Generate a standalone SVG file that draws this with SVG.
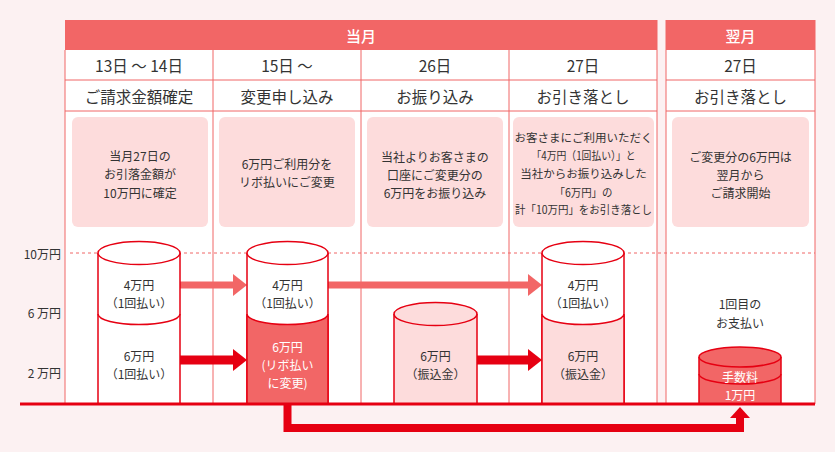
<svg xmlns="http://www.w3.org/2000/svg" width="835" height="452" viewBox="0 0 835 452">
<defs>
<style>
text{font-family:"Noto Sans CJK JP","Noto Sans",sans-serif;fill:#333;text-anchor:middle;dominant-baseline:central}
.hd{fill:#fff;font-size:15px;font-weight:500}
.row{font-size:15.5px}
.box{fill:#fddcdc}
.bt{font-size:12px}
.cy{font-size:12px}
.wt{fill:#fff}
.ax{font-size:12px;text-anchor:end}
.grid{stroke:#f06666;stroke-width:1;fill:none}
.cyl{stroke:#e60012;stroke-width:1.5}
</style>
</defs>
<rect width="835" height="452" fill="#fcf1f2"/>
<g id="table-current">
<rect x="65" y="50" width="592" height="354" fill="#fff"/>
<rect x="65" y="20" width="592" height="30" fill="#f26666"/>
<text class="hd" x="361" y="35">当月</text>
<path class="grid" d="M65,50V404M213,50V404M361,50V404M509,50V404M657,20V404M65,80H657M65,111H657"/>
</g>
<g id="table-next">
<rect x="666" y="50" width="149" height="354" fill="#fff"/>
<rect x="666" y="20" width="149" height="30" fill="#f26666"/>
<text class="hd" x="740.5" y="35">翌月</text>
<path class="grid" d="M666,20V404M815,20V404M666,80H815M666,111H815"/>
</g>
<g id="row-labels">
<text class="row" x="139" y="65">13日 ～ 14日</text>
<text class="row" x="287" y="65">15日 ～</text>
<text class="row" x="435" y="65">26日</text>
<text class="row" x="583" y="65">27日</text>
<text class="row" x="740.5" y="65">27日</text>
<text class="row" x="139" y="96">ご請求金額確定</text>
<text class="row" x="287" y="96">変更申し込み</text>
<text class="row" x="435" y="96">お振り込み</text>
<text class="row" x="583" y="96">お引き落とし</text>
<text class="row" x="740.5" y="96">お引き落とし</text>
</g>
<g id="note1">
<rect class="box" x="72" y="117" width="136" height="110" rx="6"/>
<text class="bt" x="140" y="155">当月27日の</text>
<text class="bt" x="140" y="173">お引落金額が</text>
<text class="bt" x="140" y="192">10万円に確定</text>
</g>
<g id="note2">
<rect class="box" x="219" y="117" width="136" height="110" rx="6"/>
<text class="bt" x="287" y="163">6万円ご利用分を</text>
<text class="bt" x="287" y="181">リボ払いにご変更</text>
</g>
<g id="note3">
<rect class="box" x="367" y="117" width="136" height="110" rx="6"/>
<text class="bt" x="435" y="156">当社よりお客さまの</text>
<text class="bt" x="435" y="174">口座にご変更分の</text>
<text class="bt" x="435" y="192">6万円をお振り込み</text>
</g>
<g id="note4">
<rect class="box" x="513" y="117" width="141" height="110" rx="6"/>
<text class="bt" x="583.5" y="137" style="font-size:11.5px">お客さまにご利用いただく</text>
<text class="bt" x="583.5" y="155" style="font-size:11.5px" textLength="104" lengthAdjust="spacingAndGlyphs">「4万円（1回払い）」と</text>
<text class="bt" x="583.5" y="173" style="font-size:11.5px">当社からお振り込みした</text>
<text class="bt" x="583.5" y="192" style="font-size:11.5px" textLength="58" lengthAdjust="spacingAndGlyphs">「6万円」の</text>
<text class="bt" x="583.5" y="209" style="font-size:11.5px" textLength="137" lengthAdjust="spacingAndGlyphs">計「10万円」をお引き落とし</text>
</g>
<g id="note5">
<rect class="box" x="672" y="117" width="137" height="110" rx="6"/>
<text class="bt" x="740.5" y="156">ご変更分の6万円は</text>
<text class="bt" x="740.5" y="174">翌月から</text>
<text class="bt" x="740.5" y="192">ご請求開始</text>
</g>
<g id="axis">
<line x1="70" y1="253" x2="815" y2="253" stroke="#f06666" stroke-width="1" stroke-dasharray="3,3"/>
<text class="ax" x="61" y="253">10万円</text>
<text class="ax" x="61" y="312">6 万円</text>
<text class="ax" x="61" y="372">2 万円</text>
</g>
<g id="connectors">
<path d="M180,285H234" stroke="#f26666" stroke-width="7" fill="none"/>
<polygon points="233,274 247,285 233,296" fill="#f26666"/>
<path d="M328,285H529" stroke="#f26666" stroke-width="7" fill="none"/>
<polygon points="528,274 542,285 528,296" fill="#f26666"/>
<path d="M180,360H234" stroke="#e60012" stroke-width="9" fill="none"/>
<polygon points="233,349 247,360 233,371" fill="#e60012"/>
<path d="M477,360H529" stroke="#e60012" stroke-width="9" fill="none"/>
<polygon points="528,349 542,360 528,371" fill="#e60012"/>
<path d="M287.5,404V428H740V416" stroke="#e60012" stroke-width="8" fill="none"/>
<polygon points="730,418 740,407 750,418" fill="#e60012"/>
</g>
<g id="cyl1">
<path class="cyl" d="M98,253V404H180V253" fill="#fff"/>
<ellipse class="cyl" cx="139" cy="253" rx="41" ry="11.5" fill="#fff"/>
<path class="cyl" d="M98,314A41,10.5 0 0 0 180,314" fill="none"/>
<text class="cy" x="139" y="284">4万円</text>
<text class="cy" x="139" y="302">（1回払い）</text>
<text class="cy" x="139" y="355">6万円</text>
<text class="cy" x="139" y="373">（1回払い）</text>
</g>
<g id="cyl2">
<path class="cyl" d="M247,253V404H328V253" fill="#fff"/>
<path class="cyl" d="M247,314A40.5,10.5 0 0 0 328,314V404H247Z" fill="#f26666"/>
<ellipse class="cyl" cx="287.5" cy="253" rx="40.5" ry="11.5" fill="#fff"/>
<text class="cy" x="287.5" y="284">4万円</text>
<text class="cy" x="287.5" y="302">（1回払い）</text>
<text class="cy wt" x="287.5" y="346">6万円</text>
<text class="cy wt" x="287.5" y="364">(リボ払い</text>
<text class="cy wt" x="287.5" y="382">に変更)</text>
</g>
<g id="cyl3">
<path class="cyl" d="M394,314V404H477V314" fill="#fddcdc"/>
<ellipse class="cyl" cx="435.5" cy="314" rx="41.5" ry="11.5" fill="#fddcdc"/>
<text class="cy" x="435.5" y="355">6万円</text>
<text class="cy" x="435.5" y="373">（振込金）</text>
</g>
<g id="cyl4">
<path class="cyl" d="M542,253V404H624V253" fill="#fff"/>
<path class="cyl" d="M542,314A41,10.5 0 0 0 624,314V404H542Z" fill="#fddcdc"/>
<ellipse class="cyl" cx="583" cy="253" rx="41" ry="11.5" fill="#fff"/>
<text class="cy" x="583" y="284">4万円</text>
<text class="cy" x="583" y="302">（1回払い）</text>
<text class="cy" x="583" y="355">6万円</text>
<text class="cy" x="583" y="373">（振込金）</text>
</g>
<g id="cyl5">
<text class="cy" x="740" y="303">1回目の</text>
<text class="cy" x="740" y="322">お支払い</text>
<path class="cyl" d="M699,357V404H781V357" fill="#f26666"/>
<ellipse class="cyl" cx="740" cy="357" rx="41" ry="10" fill="#f26666"/>
<path class="cyl" d="M699,374A41,10 0 0 0 781,374" fill="none" stroke-width="1"/>
<text class="cy wt" x="740" y="376">手数料</text>
<text class="cy wt" x="740" y="394">1万円</text>
</g>
<g id="baseline">
<line x1="20" y1="404" x2="815" y2="404" stroke="#e60012" stroke-width="3"/>
</g>
</svg>
